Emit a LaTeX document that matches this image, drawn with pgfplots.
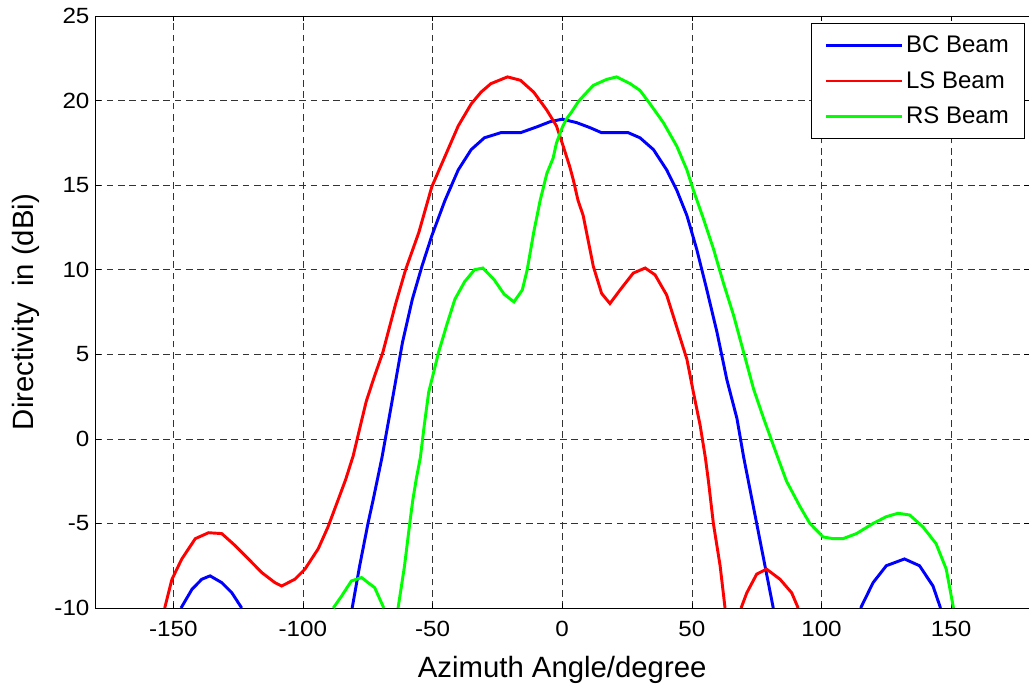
\documentclass[border=0pt]{standalone}
\usepackage{pgfplots}
\pgfplotsset{compat=1.18}
\usepackage{fontspec}
\setmainfont{Liberation Sans}
\newfontfamily\tickfont[FakeStretch=1.1]{Liberation Sans}
\definecolor{mblue}{RGB}{0,0,255}
\definecolor{mred}{RGB}{255,0,0}
\definecolor{mgreen}{RGB}{0,255,0}
\begin{document}
\begin{tikzpicture}
\begin{axis}[
  scale only axis,
  width=700.1pt, height=444pt,
  xmin=-180, xmax=180, ymin=-10, ymax=25,
  xtick={-150,-100,...,150},
  ytick={-10,-5,...,25},
  /pgf/number format/assume math mode=true,
  ticklabel style={font=\tickfont\fontsize{16.5}{19}\selectfont},
  xticklabel style={yshift=-6.5pt},
  yticklabel style={xshift=-1pt},
  tick align=inside,
  major tick length=4pt,
  tick style={black, line width=0.5pt},
  axis line style={black, line width=0.6pt},
  grid=major,
  major grid style={black!80, line width=0.5pt, dash pattern=on 5pt off 3.5pt},
  xlabel={Azimuth Angle/degree},
  ylabel={Directivity\ \ in (dBi)},
  label style={font=\fontsize{22}{26}\selectfont},
  xlabel style={at={(axis description cs:0.5,-0.1166)}, anchor=base},
  ylabel style={at={(axis description cs:-0.075,0.5)}, anchor=center},
  legend cell align=left,
  legend style={at={(0.996,0.988)}, anchor=north east, draw=black, line width=0.6pt,
    font=\fontsize{18}{21}\selectfont, inner xsep=10pt, inner ysep=7.5pt, row sep=8.5pt},
  legend image code/.code={\draw[#1, line width=2.2pt] (0pt,0pt) -- (57pt,0pt);},
  every axis plot/.append style={line width=2.2pt},
]
% BC Beam
\addplot[mblue] coordinates {(-81,-10) (-78.1,-7.5) (-74.9,-5) (-72.9,-3.6) (-69.5,-1.1) (-66.1,1.8) (-61.6,5.7) (-57.8,8.25) (-54.1,10.2) (-50.3,12) (-45.2,14.1) (-40.1,15.9) (-35.1,17.1) (-30,17.8) (-23.7,18.1) (-16.1,18.1) (-9.7,18.45) (-4.7,18.75) (0,18.9) (5.5,18.7) (10.7,18.4) (15.2,18.1) (25.5,18.1) (30,17.8) (35.2,17.1) (40.3,15.9) (44.2,14.7) (48.1,13.2) (51.9,11.2) (55.8,8.8) (59.7,6.3) (63.5,3.5) (67.4,1.2) (70,-1.1) (71.8,-2.5) (75,-5) (78.2,-7.5) (81.4,-10)};
\addlegendentry{BC Beam}
% LS Beam
\addplot[mred] coordinates {(-153.3,-10) (-150.5,-8.3) (-146.7,-7.1) (-141.5,-5.9) (-136.4,-5.55) (-131.3,-5.6) (-126.2,-6.3) (-121,-7.1) (-115.9,-7.9) (-110.8,-8.5) (-108.2,-8.7) (-103.1,-8.3) (-99.2,-7.7) (-94.1,-6.5) (-90.3,-5.2) (-86.4,-3.6) (-83.5,-2.4) (-80.6,-1.0) (-77.8,0.8) (-75.6,2.2) (-72.4,3.7) (-69.2,5.1) (-64.2,8.0) (-60.4,10) (-55.3,12.2) (-50.3,14.9) (-45.2,16.7) (-40.1,18.5) (-35.1,19.8) (-31.3,20.5) (-27.5,21.0) (-21.1,21.4) (-16.1,21.2) (-11,20.5) (-6,19.45) (-2.2,18.5) (0.4,17.3) (2.9,16.1) (4.3,15.3) (6.1,14.1) (8.1,13.2) (12,10.2) (15.2,8.6) (18.4,8.0) (22.3,8.8) (27.4,9.8) (32,10.1) (35.8,9.7) (40.3,8.5) (44.2,6.6) (48.1,4.7) (50.6,2.75) (53.2,0.8) (55.2,-1.1) (56.4,-2.5) (58.3,-5) (60.9,-7.5) (62.8,-10)};
\addlegendentry{LS Beam}
% RS Beam
\addplot[mgreen] coordinates {(-63.3,-10) (-60.8,-7.5) (-58.8,-5) (-57.6,-3.6) (-56.2,-2.3) (-54.7,-1.1) (-53.2,0.8) (-51.5,2.75) (-47.7,5.1) (-44.6,6.7) (-41.4,8.25) (-37.6,9.3) (-33.8,10) (-30.6,10.1) (-26.2,9.4) (-22.4,8.55) (-18.6,8.1) (-15.4,8.8) (-13.5,10) (-11,12.2) (-8.5,14.1) (-5.9,15.7) (-3.5,16.6) (-2.2,17.5) (0,18.4) (1.6,18.9) (3.5,19.3) (6.5,20.0) (12,20.9) (17.1,21.25) (21,21.4) (26.2,21.0) (30,20.6) (33.9,19.8) (39,18.7) (44.2,17.3) (48.1,15.9) (50.6,14.7) (54.5,13.0) (58.4,11.2) (62.2,9.2) (66.1,7.3) (70,5.1) (73.8,2.95) (77.7,1.2) (82.9,-1.0) (86.5,-2.5) (91.7,-4.0) (95.5,-5) (100.6,-5.8) (104.5,-5.9) (108.3,-5.9) (113.5,-5.6) (119.9,-5) (125,-4.6) (129.5,-4.4) (134,-4.5) (139.1,-5.2) (144.2,-6.2) (148.1,-7.7) (150.9,-10)};
\addlegendentry{RS Beam}
% side lobes
\addplot[mblue, forget plot] coordinates {(-147,-10) (-142.8,-8.9) (-139,-8.3) (-135.8,-8.1) (-131.3,-8.5) (-127.4,-9.1) (-123.6,-10)};
\addplot[mblue, forget plot] coordinates {(115.1,-10) (119.9,-8.5) (125,-7.5) (132,-7.1) (137.8,-7.5) (143,-8.7) (145.9,-10)};
\addplot[mred, forget plot] coordinates {(69,-10) (71.2,-9.1) (75,-8) (78.8,-7.7) (84,-8.3) (88.5,-9.1) (91,-10)};
\addplot[mgreen, forget plot] coordinates {(-88.3,-10) (-85.1,-9.3) (-81.3,-8.4) (-77.4,-8.2) (-72.3,-8.8) (-68.8,-10)};
\end{axis}
\pgfresetboundingbox
\path (-71.6pt,-61.5pt) rectangle (700.15pt,456pt);
\end{tikzpicture}
\end{document}
